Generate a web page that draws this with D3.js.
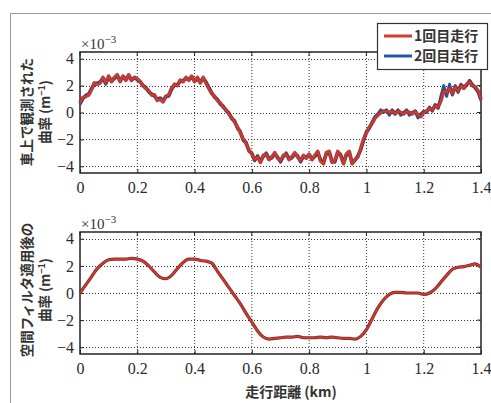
<!DOCTYPE html>
<html>
<head>
<meta charset="utf-8">
<script src="https://cdn.jsdelivr.net/npm/d3@7"></script>
<style>
  body { margin: 0; background: #fff; }
  .tick text, .expo { font-family: "Liberation Serif", "DejaVu Serif", serif !important; }
</style>
</head>
<body>
<div id="chart"></div>
<script>
// distance along the track (km), step 0.01 for raw runs, 0.02 for filtered
const distRaw = d3.range(0, 141).map(i => +(i * 0.01).toFixed(2));
const distFilt = d3.range(0, 71).map(i => +(i * 0.02).toFixed(2));

// curvature x10^-3 (1/m), 1st run
const run1 = [
  0.7, 1.1, 1.2, 1.3, 1.7, 2.2, 2.1, 2.2, 2.6, 2.2,
  2.7, 2.3, 2.6, 2.8, 2.3, 2.7, 2.4, 2.8, 2.4, 2.6,
  2.5, 2.3, 2.0, 1.8, 1.6, 1.3, 1.3, 0.9, 1.0, 0.8,
  1.2, 1.3, 1.8, 2.1, 2.0, 2.4, 2.3, 2.6, 2.4, 2.7,
  2.3, 2.6, 2.2, 2.6, 2.2, 1.8, 1.4, 1.2, 0.9, 0.7,
  0.4, 0.2, -0.1, -0.4, -0.7, -1.1, -1.5, -2.0, -2.3, -2.8,
  -3.1, -3.5, -3.3, -3.7, -3.2, -3.1, -3.5, -3.3, -3.0, -3.4,
  -3.6, -3.2, -3.1, -3.5, -3.3, -3.0, -3.3, -3.6, -3.2, -3.4,
  -3.1, -3.5, -3.2, -2.9, -3.6, -3.8, -3.0, -2.9, -3.7, -3.6,
  -2.9, -3.2, -3.8, -3.1, -2.9, -3.8, -3.5, -3.3, -2.7, -2.0,
  -1.5, -1.1, -0.8, -0.4, -0.2, 0.0, 0.1, 0.1, 0.0, 0.1,
  -0.1, 0.1, 0.0, -0.1, 0.1, 0.0, -0.1, 0.1, -0.2, -0.3,
  0.0, 0.1, 0.3, 0.2, 0.5, 0.4, 0.9, 1.6, 1.5, 1.8,
  1.4, 1.9, 1.6, 2.0, 1.8, 2.1, 2.3, 2.0, 1.9, 1.6,
  1.0
];

// 2nd run
const run2 = [
  0.6, 1.0, 1.3, 1.4, 1.8, 2.1, 2.2, 2.3, 2.5, 2.1,
  2.6, 2.4, 2.5, 2.7, 2.4, 2.6, 2.5, 2.7, 2.4, 2.6,
  2.4, 2.3, 2.0, 1.9, 1.5, 1.4, 1.2, 1.0, 1.1, 0.9,
  1.2, 1.2, 1.7, 2.0, 2.1, 2.3, 2.4, 2.5, 2.5, 2.6,
  2.4, 2.5, 2.3, 2.5, 2.3, 1.9, 1.5, 1.1, 1.0, 0.6,
  0.5, 0.1, 0.0, -0.5, -0.6, -1.2, -1.4, -2.1, -2.2, -2.9,
  -3.0, -3.6, -3.2, -3.6, -3.3, -3.0, -3.4, -3.4, -3.1, -3.3,
  -3.7, -3.3, -3.0, -3.4, -3.4, -3.1, -3.2, -3.7, -3.3, -3.3,
  -3.2, -3.4, -3.3, -3.0, -3.5, -3.7, -3.1, -3.0, -3.6, -3.7,
  -3.0, -3.1, -3.7, -3.2, -3.0, -3.7, -3.6, -3.2, -2.8, -2.1,
  -1.4, -1.2, -0.7, -0.3, -0.1, 0.2, 0.0, 0.2, -0.2, 0.2,
  -0.1, 0.2, -0.2, 0.0, 0.2, -0.2, 0.0, 0.1, -0.4, -0.1,
  0.1, 0.0, 0.4, 0.1, 0.6, 0.3, 1.2, 2.0, 1.2, 2.1,
  1.3, 2.0, 1.5, 2.1, 1.9, 2.0, 2.4, 2.1, 1.8, 1.5,
  0.9
];

// after spatial filter
const filtered = [
  0.0, 0.6, 1.2, 1.8, 2.2, 2.45, 2.5, 2.5, 2.5, 2.55,
  2.5, 2.35, 2.0, 1.55, 1.15, 1.05, 1.3, 1.8, 2.25, 2.5,
  2.5, 2.4, 2.35, 2.2, 1.6, 1.0, 0.4, -0.2, -0.8, -1.5,
  -2.15, -2.8, -3.25, -3.4, -3.35, -3.3, -3.25, -3.25, -3.2, -3.3,
  -3.3, -3.3, -3.25, -3.3, -3.25, -3.3, -3.35, -3.35, -3.4, -3.2,
  -2.7, -1.9, -1.1, -0.5, -0.1, 0.05, 0.05, 0.0, 0.0, 0.0,
  -0.1, 0.0, 0.3, 0.8, 1.3, 1.75, 1.9, 1.95, 2.05, 2.15,
  1.9
];

const xTicks = [0, 0.2, 0.4, 0.6, 0.8, 1, 1.2, 1.4];
const yTicks = [-4, -2, 0, 2, 4];
const seriesNames = ["1回目走行", "2回目走行"];

const width = 491, height = 403;
const svg = d3.select("#chart").append("svg")
  .attr("width", width).attr("height", height)
  .style("background", "#fff");

// outer frame (only left and top edges visible)
svg.append("path")
  .attr("d", "M10.5,403 V13.5 H491")
  .attr("fill", "none").attr("stroke", "#999").attr("stroke-width", 1);

const x = d3.scaleLinear().domain([0, 1.4]).range([80, 481]);
const jpFont = "Noto Sans CJK JP, sans-serif";

function panel(top, bottom, labelLines, labelCy) {
  const y = d3.scaleLinear().domain([-4.5, 4.5]).range([bottom, top]);
  const g = svg.append("g");

  // dotted grid
  g.selectAll(".vg").data(xTicks.slice(1, -1)).join("line")
    .attr("x1", d => x(d)).attr("x2", d => x(d))
    .attr("y1", top).attr("y2", bottom)
    .attr("stroke", "#333").attr("stroke-width", 1).attr("stroke-dasharray", "1,2");
  g.selectAll(".hg").data(yTicks).join("line")
    .attr("x1", x(0)).attr("x2", x(1.4))
    .attr("y1", d => Math.round(y(d)) + 0.5).attr("y2", d => Math.round(y(d)) + 0.5)
    .attr("stroke", "#333").attr("stroke-width", 1).attr("stroke-dasharray", "1,2");

  // axes (ticks inside)
  const ax = d3.axisBottom(x).tickValues(xTicks).tickSizeInner(-4).tickSizeOuter(0).tickPadding(9)
    .tickFormat(d3.format(""));
  const axG = g.append("g").attr("transform", `translate(0,${bottom})`).call(ax);
  const ay = d3.axisLeft(y).tickValues(yTicks).tickSizeInner(-4).tickSizeOuter(0).tickPadding(6)
    .tickFormat(d => d < 0 ? "\u2212" + Math.abs(d) : d);
  const ayG = g.append("g").attr("transform", `translate(${x(0)},0)`).call(ay);
  [axG, ayG].forEach(a => {
    a.attr("font-size", 16);
    a.select(".domain").remove();
    a.selectAll("line").attr("stroke", "#222");
    a.selectAll("text").attr("fill", "#2a2a2a");
  });
  // top / right ticks
  g.selectAll(".tt").data(xTicks).join("line")
    .attr("x1", d => x(d)).attr("x2", d => x(d)).attr("y1", top).attr("y2", top + 4)
    .attr("stroke", "#222");
  g.selectAll(".rt").data(yTicks).join("line")
    .attr("x1", x(1.4)).attr("x2", x(1.4) - 4).attr("y1", d => y(d)).attr("y2", d => y(d))
    .attr("stroke", "#222");

  // box
  g.append("rect")
    .attr("x", x(0)).attr("y", top).attr("width", x(1.4) - x(0)).attr("height", bottom - top)
    .attr("fill", "none").attr("stroke", "#222").attr("stroke-width", 1.5);

  // exponent label
  const ex = g.append("text").attr("class", "expo").attr("x", x(0) + 1).attr("y", top - 3)
    .attr("font-size", 15).attr("fill", "#333");
  ex.append("tspan").text("\u00d710");
  ex.append("tspan").attr("dy", -6).attr("font-size", 11).text("\u22123");

  // y label (two rotated lines)
  labelLines.forEach((ln, i) => {
    const t = g.append("text")
      .attr("transform", `translate(${32 + i * 18},${labelCy}) rotate(-90)`)
      .attr("text-anchor", "middle")
      .attr("font-family", jpFont).attr("font-size", 13.5).attr("font-weight", "bold")
      .attr("fill", "#333");
    if (ln === null) {
      t.append("tspan").text("曲率 (m");
      t.append("tspan").attr("dy", -5).attr("font-size", 9).text("\u22121");
      t.append("tspan").attr("dy", 5).text(")");
    } else {
      t.text(ln);
    }
  });
  return y;
}

const yTop = panel(52, 173, ["車上で観測された", null], 112);
const yBot = panel(232, 354, ["空間フィルタ適用後の", null], 290);

const lineTop = d3.line().x((d, i) => x(distRaw[i])).y(d => yTop(d));
const lineBot = d3.line().curve(d3.curveMonotoneX).x((d, i) => x(distFilt[i])).y(d => yBot(d));

// run 2 drawn beneath run 1
svg.append("path").datum(run2).attr("d", lineTop)
  .attr("fill", "none").attr("stroke", "#2456a6").attr("stroke-width", 3).attr("stroke-linejoin", "round");
svg.append("path").datum(run1).attr("d", lineTop)
  .attr("fill", "none").attr("stroke", "#8a2a26").attr("stroke-width", 3.8).attr("stroke-linejoin", "round")
  .attr("opacity", 0.85);
svg.append("path").datum(run1).attr("d", lineTop)
  .attr("fill", "none").attr("stroke", "#cf3a32").attr("stroke-width", 2).attr("stroke-linejoin", "round");

svg.append("path").datum(filtered).attr("d", lineBot)
  .attr("fill", "none").attr("stroke", "#7a2a26").attr("stroke-width", 3.2).attr("stroke-linejoin", "round");
svg.append("path").datum(filtered).attr("d", lineBot)
  .attr("fill", "none").attr("stroke", "#d33a32").attr("stroke-width", 1.7).attr("stroke-linejoin", "round");

// legend
const lg = svg.append("g");
lg.append("rect").attr("x", 377.5).attr("y", 23.5).attr("width", 110).attr("height", 46)
  .attr("fill", "#fff").attr("stroke", "#333").attr("stroke-width", 1.2);
const legColors = ["#d33a32", "#2456a6"];
seriesNames.forEach((name, i) => {
  const ly = 36 + i * 20;
  lg.append("line").attr("x1", 384).attr("x2", 412).attr("y1", ly).attr("y2", ly)
    .attr("stroke", legColors[i]).attr("stroke-width", 3);
  lg.append("text").attr("x", 414).attr("y", ly + 5)
    .attr("font-family", jpFont).attr("font-size", 14).attr("font-weight", "bold")
    .attr("fill", "#333").text(name);
});

// x-axis title
svg.append("text").attr("x", 291).attr("y", 397).attr("text-anchor", "middle")
  .attr("font-family", jpFont).attr("font-size", 14).attr("font-weight", "bold")
  .attr("fill", "#333").text("走行距離 (km)");
</script>
</body>
</html>
